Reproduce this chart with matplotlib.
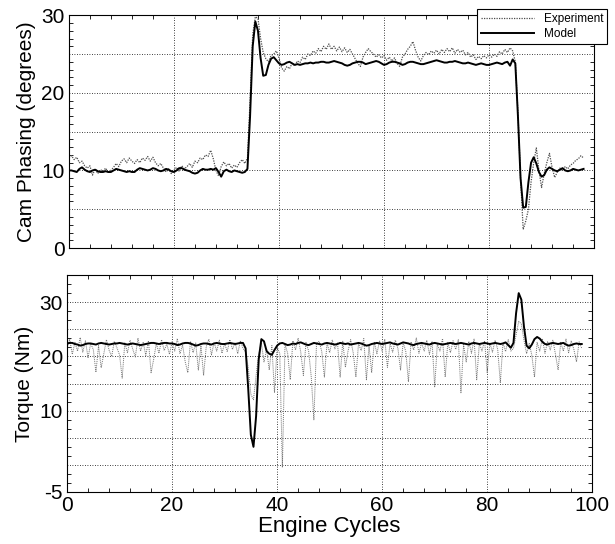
import numpy as np
import matplotlib
matplotlib.use("Agg")
import matplotlib.pyplot as plt
from matplotlib.ticker import MultipleLocator, AutoMinorLocator, FuncFormatter

# Engine cycle axis (half-cycle samples, 0 .. 98)
cycles = np.arange(0, 98.5, 0.5)

# Cam phasing (degrees) - experiment
cam_experiment = [
    11.6, 11.9, 11.4, 11.7, 11.0, 11.2, 10.6, 10.3, 10.6, 9.4, 10.2, 9.6, 10.1, 9.9, 10.3, 9.7, 10.0, 10.4, 10.9, 10.5,
    11.2, 11.5, 11.0, 11.6, 11.2, 10.9, 11.4, 11.0, 11.6, 11.3, 11.8, 11.2, 11.7, 11.0, 10.6, 10.9, 10.3, 9.8, 10.2, 9.6,
    10.0, 10.4, 9.9, 10.6, 10.2, 10.5, 10.9, 10.4, 11.2, 11.0, 11.6, 11.4, 12.0, 11.8, 12.6, 11.5, 10.0, 9.3, 10.5, 11.1,
    10.6, 10.9, 10.3, 10.7, 10.4, 11.0, 11.4, 10.9, 11.6, 19.0, 27.5, 29.8, 29.6, 27.0, 25.2, 24.4, 24.0, 24.8, 25.0, 25.4,
    24.5, 23.2, 22.8, 23.4, 23.1, 23.8, 23.5, 24.1, 23.9, 24.6, 24.3, 25.0, 24.8, 25.4, 25.1, 25.7, 25.3, 26.0, 25.6, 26.3,
    25.6, 26.0, 25.4, 25.9, 25.3, 25.8, 25.2, 25.6, 25.0, 24.4, 23.8, 23.4, 24.6, 25.2, 25.7, 25.3, 25.0, 24.6, 24.9, 24.5,
    24.8, 24.2, 24.6, 24.1, 24.5, 23.8, 23.4, 24.6, 25.0, 25.6, 26.0, 26.6, 25.5, 24.6, 24.1, 24.8, 25.2, 24.9, 25.4, 25.1,
    25.5, 25.0, 25.6, 25.2, 25.7, 25.3, 25.8, 25.1, 25.6, 25.2, 25.5, 24.9, 25.2, 24.6, 24.9, 24.3, 24.7, 24.4, 24.8, 24.5,
    24.9, 24.6, 25.0, 24.7, 25.3, 25.0, 25.6, 25.2, 25.8, 25.4, 24.0, 17.5, 9.0, 2.4, 3.5, 5.0, 8.5, 11.0, 12.9, 10.0,
    7.8, 9.6, 11.0, 12.2, 10.4, 9.1, 9.8, 10.3, 10.0, 10.5, 10.2, 10.7, 10.9, 11.3, 11.5, 11.9, 11.6,
]

# Cam phasing (degrees) - model
cam_model = [
    10.0, 10.0, 9.9, 9.8, 10.2, 10.4, 10.1, 9.9, 9.8, 10.0, 10.1, 9.9, 9.8, 9.8, 9.9, 9.8, 9.8, 10.0, 10.2, 10.1,
    10.0, 9.9, 9.8, 9.9, 9.8, 9.8, 10.1, 10.3, 10.2, 10.1, 10.0, 10.1, 10.3, 10.2, 10.0, 9.9, 10.0, 10.2, 10.1, 9.9,
    9.8, 10.0, 10.3, 10.3, 10.1, 10.0, 9.9, 9.7, 9.6, 9.7, 10.0, 10.2, 10.1, 10.1, 10.2, 10.1, 10.3, 9.8, 9.2, 9.9,
    10.1, 9.9, 9.8, 10.0, 9.9, 9.8, 9.7, 9.8, 10.2, 17.0, 26.0, 29.2, 28.0, 24.5, 22.2, 22.3, 23.6, 24.4, 24.6, 24.2,
    23.8, 23.6, 23.7, 23.9, 24.0, 23.8, 23.6, 23.7, 23.6, 23.7, 23.8, 23.8, 23.9, 23.8, 23.9, 23.9, 24.0, 24.0, 23.9, 23.9,
    24.0, 24.1, 24.0, 23.9, 23.8, 23.6, 23.5, 23.6, 23.8, 23.9, 24.0, 24.0, 23.9, 23.7, 23.8, 23.9, 24.0, 24.1, 24.0, 23.8,
    23.6, 23.7, 23.9, 24.0, 24.0, 23.9, 23.8, 23.6, 23.7, 23.9, 24.0, 24.0, 23.9, 23.8, 23.7, 23.7, 23.8, 23.9, 24.0, 24.1,
    24.2, 24.1, 24.0, 23.9, 23.9, 24.0, 24.0, 24.1, 24.0, 23.9, 23.8, 23.8, 23.9, 23.8, 23.7, 23.6, 23.7, 23.8, 23.7, 23.6,
    23.6, 23.7, 23.8, 23.9, 23.8, 23.7, 23.9, 24.0, 23.5, 24.3, 23.8, 17.0, 9.0, 5.2, 5.3, 8.5, 11.0, 11.7, 10.9, 9.8,
    9.2, 9.4, 10.1, 10.4, 10.2, 10.0, 9.9, 10.1, 10.3, 10.0, 9.9, 10.0, 10.2, 10.1, 10.0, 10.1, 10.2,
]

# Torque (Nm) - experiment
torque_experiment = [
    21.5, 23.2, 20.4, 22.6, 21.0, 23.5, 20.8, 22.9, 19.8, 22.4, 21.3, 17.1, 22.0, 17.9, 20.5, 23.1, 21.2, 20.0, 22.8, 21.6,
    20.3, 16.0, 22.5, 20.7, 23.0, 21.4, 19.9, 23.4, 21.0, 22.6, 20.2, 22.9, 17.0, 19.5, 22.4, 20.6, 23.1, 21.1, 22.3, 20.4,
    22.7, 21.0, 23.3, 20.5, 22.1, 19.0, 17.0, 22.8, 20.7, 22.5, 17.5, 22.0, 16.5, 21.8, 23.2, 20.3, 22.6, 21.0, 23.0, 20.6,
    22.4, 20.9, 23.1, 21.3, 22.6, 20.5, 22.9, 21.5, 20.8, 18.0, 13.0, 12.0, 16.5, 20.5, 22.5, 19.0, 21.3, 17.5, 22.0, 13.3,
    21.8, 20.5, -0.5, 22.3, 20.6, 15.7, 22.9, 21.2, 23.4, 20.8, 16.5, 22.6, 21.0, 16.2, 8.3, 22.4, 22.8, 20.9, 16.2, 22.5,
    20.7, 23.0, 21.4, 22.5, 16.2, 22.8, 18.0, 21.0, 23.1, 20.6, 16.2, 22.4, 21.1, 23.3, 15.7, 22.0, 17.0, 22.7, 20.5, 22.9,
    21.0, 23.2, 18.0, 22.4, 20.8, 23.0, 21.5, 17.5, 22.6, 20.9, 15.3, 22.7, 21.2, 23.4, 20.6, 22.5, 21.0, 23.0, 20.4, 22.8,
    14.4, 22.3, 21.0, 23.3, 16.2, 22.6, 20.7, 22.9, 21.3, 23.1, 13.3, 22.2, 19.0, 22.8, 20.6, 23.2, 15.7, 22.4, 21.0, 22.9,
    17.0, 22.5, 20.8, 23.0, 21.3, 15.1, 22.6, 20.9, 23.1, 21.0, 21.5, 24.0, 26.5, 26.0, 23.0, 20.5, 22.4, 20.2, 16.2, 22.6,
    21.0, 23.3, 20.6, 22.8, 21.2, 23.0, 20.4, 17.5, 22.6, 21.0, 23.2, 20.7, 22.9, 21.3, 19.0, 22.7, 21.5,
]

# Torque (Nm) - model
torque_model = [
    22.4, 22.5, 22.5, 22.3, 22.2, 22.0, 22.1, 22.3, 22.4, 22.4, 22.3, 22.2, 22.4, 22.5, 22.4, 22.3, 22.2, 22.3, 22.4, 22.4,
    22.5, 22.4, 22.3, 22.2, 22.3, 22.4, 22.3, 22.2, 22.1, 22.2, 22.3, 22.4, 22.5, 22.5, 22.4, 22.3, 22.4, 22.5, 22.5, 22.4,
    22.4, 22.3, 22.1, 22.2, 22.4, 22.5, 22.5, 22.4, 22.2, 22.0, 22.1, 22.3, 22.4, 22.4, 22.3, 22.2, 22.4, 22.5, 22.4, 22.3,
    22.3, 22.4, 22.5, 22.4, 22.3, 22.4, 22.5, 22.5, 21.5, 14.0, 5.5, 3.3, 9.0, 19.5, 23.2, 22.8, 21.0, 20.5, 20.3, 21.2,
    22.0, 22.4, 22.5, 22.3, 22.1, 22.2, 22.4, 22.3, 22.5, 22.6, 22.4, 22.2, 22.1, 22.3, 22.5, 22.4, 22.3, 22.2, 22.4, 22.5,
    22.4, 22.3, 22.2, 22.3, 22.5, 22.4, 22.3, 22.4, 22.2, 22.3, 22.4, 22.5, 22.4, 22.2, 22.0, 22.1, 22.3, 22.4, 22.5, 22.4,
    22.3, 22.4, 22.5, 22.6, 22.4, 22.3, 22.2, 22.4, 22.6, 22.5, 22.4, 22.2, 22.1, 22.3, 22.4, 22.5, 22.4, 22.3, 22.2, 22.4,
    22.5, 22.4, 22.3, 22.2, 22.3, 22.4, 22.5, 22.4, 22.3, 22.4, 22.5, 22.4, 22.3, 22.2, 22.4, 22.5, 22.4, 22.3, 22.4, 22.5,
    22.4, 22.3, 22.4, 22.5, 22.4, 22.3, 22.4, 22.6, 22.1, 21.6, 22.5, 28.0, 31.7, 30.5, 25.5, 22.0, 21.5, 22.2, 23.2, 23.6,
    23.3, 22.7, 22.3, 22.2, 22.4, 22.5, 22.4, 22.3, 22.4, 22.5, 22.2, 22.0, 22.1, 22.3, 22.4, 22.3, 22.3,
]

cam_labels = {0: "0", 10: "10", 20: "20", 30: "30"}
torque_labels = {-5: "-5", 10: "10", 20: "20", 30: "30"}


def style_axes(ax, labels, minor_y):
    # dotted grid on every major tick, inward ticks on all four sides
    ax.set_xlim(0, 100)
    ax.xaxis.set_major_locator(MultipleLocator(20))
    ax.xaxis.set_minor_locator(MultipleLocator(4))
    ax.yaxis.set_major_locator(MultipleLocator(5))
    ax.yaxis.set_minor_locator(minor_y)
    ax.yaxis.set_major_formatter(FuncFormatter(lambda v, p: labels.get(int(round(v)), "")))
    ax.grid(True, which="major", color="black", linestyle=(0, (1, 2)), linewidth=0.6)
    ax.tick_params(which="both", direction="in", top=True, right=True, labelsize=15, pad=3)
    ax.tick_params(which="major", length=0)
    ax.tick_params(which="minor", length=3, width=0.6)
    for s in ax.spines.values():
        s.set_linewidth(0.8)


def make_chart():
    plt.rcParams["font.family"] = ["Liberation Sans", "DejaVu Sans"]
    fig = plt.figure(figsize=(6.15, 5.44), dpi=100)
    ax1 = fig.add_axes([0.112, 0.544, 0.854, 0.428])
    ax2 = fig.add_axes([0.109, 0.096, 0.854, 0.398])

    # Cam phasing
    ax1.plot(cycles, cam_experiment, color="0.3", linestyle=(0, (1, 1)), linewidth=0.9, label="Experiment")
    ax1.plot(cycles, cam_model, color="black", linewidth=1.4, label="Model")
    ax1.set_ylim(0, 30)
    style_axes(ax1, cam_labels, MultipleLocator(1))
    ax1.set_xticklabels([])
    ax1.set_ylabel("Cam Phasing (degrees)", fontsize=15, labelpad=4)

    # Torque
    ax2.plot(cycles, torque_experiment, color="0.45", linestyle=(0, (1, 1)), linewidth=0.7)
    ax2.plot(cycles, torque_model, color="black", linewidth=1.4)
    ax2.set_ylim(-5, 35)
    style_axes(ax2, torque_labels, AutoMinorLocator(3))
    ax2.set_xticks([0, 20, 40, 60, 80, 100])
    ax2.set_xticklabels(["0", "20", "40", "60", "80", "100"])
    ax2.set_ylabel("Torque (Nm)", fontsize=15, labelpad=4)
    ax2.set_xlabel("Engine Cycles", fontsize=16, labelpad=1)

    leg = fig.legend(loc="upper right", bbox_to_anchor=(0.997, 0.995), fontsize=8.5,
                     handlelength=4.5, fancybox=False, framealpha=1, borderpad=0.35,
                     labelspacing=0.25, edgecolor="black")
    leg.get_frame().set_linewidth(0.8)

    fig.savefig("out.png", dpi=100)
    print("Saved out.png")


if __name__ == "__main__":
    make_chart()
